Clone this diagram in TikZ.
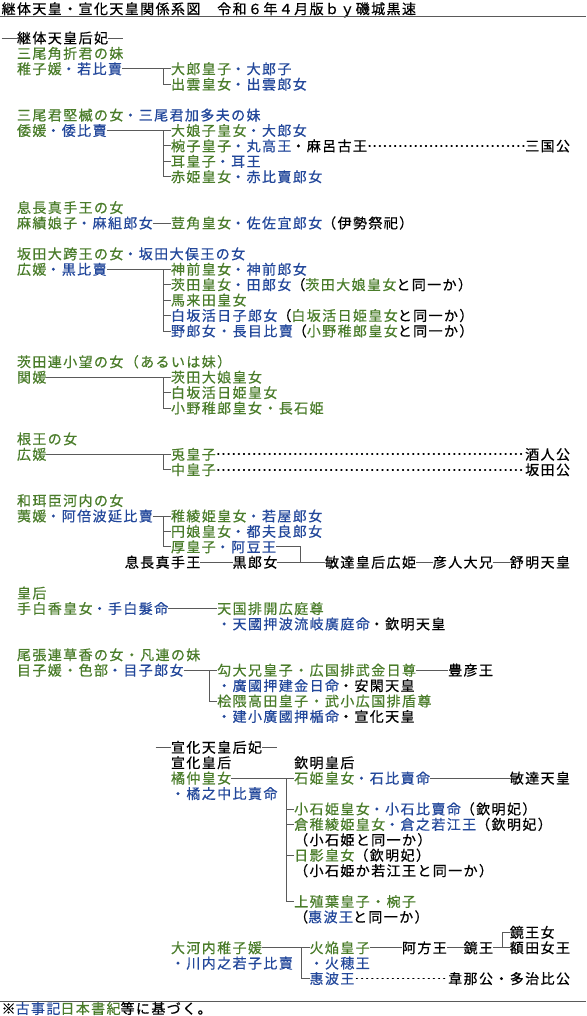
\documentclass[tikz,border=0pt]{standalone}
\usepackage{fontspec}
\newfontfamily\jp{Noto Sans CJK JP}[LetterSpace=10,FakeBold=0.6]
\definecolor{gr}{HTML}{4A7C2A}
\definecolor{bl}{HTML}{22479A}
\definecolor{ln}{HTML}{5A5A5A}
\newcommand\gtx[1]{\textcolor{gr}{#1}}
\newcommand\btx[1]{\textcolor{bl}{#1}}
\tikzset{
  txt/.style={inner sep=0pt,outer sep=0pt,anchor=west,text height=12.3pt,text depth=1.7pt,font=\jp\fontsize{14}{16}\selectfont},
  cell/.style 2 args={at={({1.6+15.4*#1},{38+15.42*#2})}},
  conn/.style={draw=ln,line width=0.9pt},
  dots/.style={draw=black,line width=1.7pt,line cap=round,dash pattern=on 0.7pt off 4.43pt,dash phase=-2.2pt},
  rule/.style={draw=ln,line width=0.9pt}
}
\begin{document}
\begin{tikzpicture}[x=1pt,y=-1pt]
\useasboundingbox (0,0) rectangle (586,1016);
% title
\node[txt,at={(1.6,8.8)}] (title) {継体天皇・宣化天皇関係系図　令和６年４月版ｂｙ磯城黒速};
\coordinate (tl) at (0,16.5); \coordinate (tr) at (586,16.5);
\draw[rule] (tl) -- (tr);
% row 0
\node[txt,cell={1}{0}] (k0) {継体天皇后妃};
\coordinate (k0l) at ([xshift=-15.4]k0.west); \coordinate (k0r) at ([xshift=15.4]k0.east);
\draw[conn] (k0l) -- (k0.west); \draw[conn] (k0.east) -- (k0r);
% group 1
\node[txt,cell={1}{1}] (a1) {\gtx{三尾角折君の妹}};
\node[txt,cell={1}{2}] (a2) {\gtx{稚子媛}\btx{・若比賣}};
\node[txt,cell={11}{2}] (b2) {\gtx{大郎皇子}\btx{・大郎子}};
\node[txt,cell={11}{3}] (b3) {\gtx{出雲皇女}\btx{・出雲郎女}};
\draw[conn] (a2.east) -- (b2.west);
\draw[conn] ([xshift=-7.7]b2.west) |- (b3.west);
% group 2
\node[txt,cell={1}{5}] (a5) {\gtx{三尾君堅楲の女}\btx{・三尾君加多夫の妹}};
\node[txt,cell={1}{6}] (a6) {\gtx{倭媛}\btx{・倭比賣}};
\node[txt,cell={11}{6}] (b6) {\gtx{大娘子皇女}\btx{・大郎女}};
\node[txt,cell={11}{7}] (b7) {\gtx{椀子皇子}\btx{・丸高王}・麻呂古王};
\node[txt,cell={34}{7}] (e7) {三国公};
\node[txt,cell={11}{8}] (b8) {\gtx{耳皇子}\btx{・耳王}};
\node[txt,cell={11}{9}] (b9) {\gtx{赤姫皇女}\btx{・赤比賣郎女}};
\draw[conn] (a6.east) -- (b6.west);
\draw[conn] ([xshift=-7.7]b6.west) |- (b9.west);
\draw[conn] ([xshift=-7.7]b7.west) -- (b7.west);
\draw[conn] ([xshift=-7.7]b8.west) -- (b8.west);
\draw[dots] (b7.east) -- (e7.west);
% group 3
\node[txt,cell={1}{11}] (a11) {\gtx{息長真手王の女}};
\node[txt,cell={1}{12}] (a12) {\gtx{麻績娘子}\btx{・麻組郎女}};
\node[txt,cell={11}{12}] (b12) {\gtx{荳角皇女}\btx{・佐佐宜郎女}（伊勢祭祀）};
\draw[conn] (a12.east) -- (b12.west);
% group 4
\node[txt,cell={1}{14}] (a14) {\gtx{坂田大跨王の女}\btx{・坂田大俣王の女}};
\node[txt,cell={1}{15}] (a15) {\gtx{広媛}\btx{・黒比賣}};
\node[txt,cell={11}{15}] (b15) {\gtx{神前皇女}\btx{・神前郎女}};
\node[txt,cell={11}{16}] (b16) {\gtx{茨田皇女}\btx{・田郎女}（\gtx{茨田大娘皇女}と同一か）};
\node[txt,cell={11}{17}] (b17) {\gtx{馬来田皇女}};
\node[txt,cell={11}{18}] (b18) {\btx{白坂活日子郎女}（\gtx{白坂活日姫皇女}と同一か）};
\node[txt,cell={11}{19}] (b19) {\btx{野郎女・長目比賣}（\gtx{小野稚郎皇女}と同一か）};
\draw[conn] (a15.east) -- (b15.west);
\draw[conn] ([xshift=-7.7]b15.west) |- (b19.west);
\draw[conn] ([xshift=-7.7]b16.west) -- (b16.west);
\draw[conn] ([xshift=-7.7]b17.west) -- (b17.west);
\draw[conn] ([xshift=-7.7]b18.west) -- (b18.west);
% group 5
\node[txt,cell={1}{21}] (a21) {\gtx{茨田連小望の女（あるいは妹）}};
\node[txt,cell={1}{22}] (a22) {\gtx{関媛}};
\node[txt,cell={11}{22}] (b22) {\gtx{茨田大娘皇女}};
\node[txt,cell={11}{23}] (b23) {\gtx{白坂活日姫皇女}};
\node[txt,cell={11}{24}] (b24) {\gtx{小野稚郎皇女・長石姫}};
\draw[conn] (a22.east) -- (b22.west);
\draw[conn] ([xshift=-7.7]b22.west) |- (b24.west);
\draw[conn] ([xshift=-7.7]b23.west) -- (b23.west);
% group 6
\node[txt,cell={1}{26}] (a26) {\gtx{根王の女}};
\node[txt,cell={1}{27}] (a27) {\gtx{広媛}};
\node[txt,cell={11}{27}] (b27) {\gtx{兎皇子}};
\node[txt,cell={34}{27}] (e27) {酒人公};
\node[txt,cell={11}{28}] (b28) {\gtx{中皇子}};
\node[txt,cell={34}{28}] (e28) {坂田公};
\draw[conn] (a27.east) -- (b27.west);
\draw[conn] ([xshift=-7.7]b27.west) |- (b28.west);
\draw[dots] (b27.east) -- (e27.west);
\draw[dots] (b28.east) -- (e28.west);
% group 7
\node[txt,cell={1}{30}] (a30) {\gtx{和珥臣河内の女}};
\node[txt,cell={1}{31}] (a31) {\gtx{荑媛}\btx{・阿倍波延比賣}};
\node[txt,cell={11}{31}] (b31) {\gtx{稚綾姫皇女}\btx{・若屋郎女}};
\node[txt,cell={11}{32}] (b32) {\gtx{円娘皇女}\btx{・都夫良郎女}};
\node[txt,cell={11}{33}] (b33) {\gtx{厚皇子}\btx{・阿豆王}};
\node[txt,cell={8}{34}] (m34) {息長真手王};
\node[txt,cell={15}{34}] (k34) {黒郎女};
\node[txt,cell={21}{34}] (h34) {敏達皇后広姫};
\node[txt,cell={28}{34}] (i34) {彦人大兄};
\node[txt,cell={33}{34}] (j34) {舒明天皇};
\draw[conn] (a31.east) -- (b31.west);
\draw[conn] ([xshift=-7.7]b31.west) |- (b33.west);
\draw[conn] ([xshift=-7.7]b32.west) -- (b32.west);
\coordinate (jn34) at ([xshift=23.1]k34.east);
\draw[conn] (b33.east) -| (jn34);
\draw[conn] (m34.east) -- (k34.west);
\draw[conn] (k34.east) -- (h34.west);
\draw[conn] (h34.east) -- (i34.west);
\draw[conn] (i34.east) -- (j34.west);
% group 8
\node[txt,cell={1}{36}] (a36) {\gtx{皇后}};
\node[txt,cell={1}{37}] (a37) {\gtx{手白香皇女}\btx{・手白髮命}};
\node[txt,cell={14}{37}] (b37) {\gtx{天国排開広庭尊}};
\node[txt,cell={14}{38}] (b38) {\btx{・天國押波流岐廣庭命}・欽明天皇};
\draw[conn] (a37.east) -- (b37.west);
% group 9
\node[txt,cell={1}{40}] (a40) {\gtx{尾張連草香の女・凡連の妹}};
\node[txt,cell={1}{41}] (a41) {\gtx{目子媛・色部}\btx{・目子郎女}};
\node[txt,cell={14}{41}] (b41) {\gtx{勾大兄皇子・広国排武金日尊}};
\node[txt,cell={29}{41}] (e41) {豊彦王};
\node[txt,cell={14}{42}] (b42) {\btx{・廣國押建金日命}・安閑天皇};
\node[txt,cell={14}{43}] (b43) {\gtx{桧隈高田皇子・武小広国排盾尊}};
\node[txt,cell={14}{44}] (b44) {\btx{・建小廣國押楯命}・宣化天皇};
\draw[conn] (a41.east) -- (b41.west);
\draw[conn] ([xshift=-7.7]b41.west) |- (b43.west);
\draw[conn] (b41.east) -- (e41.west);
% Senka
\node[txt,cell={11}{46}] (k46) {宣化天皇后妃};
\coordinate (k46l) at ([xshift=-15.4]k46.west); \coordinate (k46r) at ([xshift=15.4]k46.east);
\draw[conn] (k46l) -- (k46.west); \draw[conn] (k46.east) -- (k46r);
\node[txt,cell={11}{47}] (a47) {宣化皇后};
\node[txt,cell={19}{47}] (c47) {欽明皇后};
\node[txt,cell={11}{48}] (a48) {\gtx{橘仲皇女}};
\node[txt,cell={19}{48}] (c48) {\gtx{石姫皇女}\btx{・石比賣命}};
\node[txt,cell={33}{48}] (e48) {敏達天皇};
\node[txt,cell={11}{49}] (a49) {\btx{・橘之中比賣命}};
\node[txt,cell={19}{50}] (c50) {\gtx{小石姫皇女}\btx{・小石比賣命}（欽明妃）};
\node[txt,cell={19}{51}] (c51) {\gtx{倉稚綾姫皇女}\btx{・倉之若江王}（欽明妃）};
\node[txt,cell={19}{52}] (c52) {（小石姫と同一か）};
\node[txt,cell={19}{53}] (c53) {\gtx{日影皇女}（欽明妃）};
\node[txt,cell={19}{54}] (c54) {（小石姫か若江王と同一か）};
\node[txt,cell={19}{56}] (c56) {\gtx{上殖葉皇子・椀子}};
\node[txt,cell={19}{57}] (c57) {（\btx{惠波王}と同一か）};
\draw[conn] (a48.east) -- (c48.west);
\draw[conn] ([xshift=-7.7]c48.west) |- (c56.west);
\draw[conn] ([xshift=-7.7]c50.west) -- (c50.west);
\draw[conn] ([xshift=-7.7]c51.west) -- (c51.west);
\draw[conn] ([xshift=-7.7]c53.west) -- (c53.west);
\draw[conn] (c48.east) -- (e48.west);
% Okochi
\node[txt,cell={33}{58}] (g58) {鏡王女};
\node[txt,cell={11}{59}] (a59) {\gtx{大河内稚子媛}};
\node[txt,cell={20}{59}] (f59) {\gtx{火焔皇子}};
\node[txt,cell={26}{59}] (p59) {阿方王};
\node[txt,cell={30}{59}] (q59) {鏡王};
\node[txt,cell={33}{59}] (g59) {額田女王};
\node[txt,cell={11}{60}] (a60) {\btx{・川内之若子比賣}};
\node[txt,cell={20}{60}] (f60) {\btx{・火穂王}};
\node[txt,cell={20}{61}] (f61) {\btx{惠波王}};
\node[txt,cell={29}{61}] (e61) {韋那公・多治比公};
\draw[conn] (a59.east) -- (f59.west);
\draw[conn] ([xshift=-7.7]f59.west) |- (f61.west);
\draw[conn] (f59.east) -- (p59.west);
\draw[conn] (p59.east) -- (q59.west);
\draw[conn] (q59.east) -- (g59.west);
\draw[conn] ([xshift=-7.7]g59.west) |- (g58.west);
\draw[dots] (f61.east) -- (e61.west);
% footer
\coordinate (bl) at (0,1001.5); \coordinate (br) at (586,1001.5);
\draw[rule] (bl) -- (br);
\node[txt,at={(1.6,1008.5)}] (foot) {※\btx{古事記}\gtx{日本書紀}等に基づく。};
\end{tikzpicture}
\end{document}
